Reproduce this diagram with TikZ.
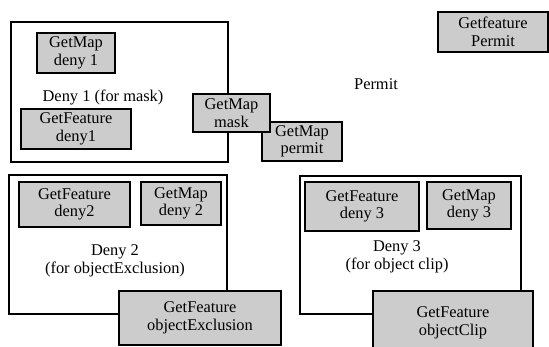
\documentclass[tikz,border=0pt]{standalone}
\usepackage{fontspec}
\setmainfont{Liberation Serif}

\begin{document}
\begin{tikzpicture}[x=1pt,y=-1pt,
  font=\fontsize{16.4}{17.5}\selectfont,
  policy/.style={draw,line width=1.6pt,fill=white,inner sep=0pt},
  req/.style={draw,line width=1.3pt,fill=gray!40,align=center,inner sep=0pt},
  lbl/.style={align=center,inner sep=1pt}]
\useasboundingbox (0,0) rectangle (549,347);
% deny 1 (mask)
\node[policy,minimum width=217pt,minimum height=140pt] (deny1) at (119.5,92) {};
\node[req,minimum width=78pt,minimum height=40pt] (mapdeny1) at (76,53) {GetMap\\deny 1};
\node[lbl] (deny1lbl) at (103,97) {Deny 1 (for mask)};
\node[req,minimum width=110pt,minimum height=40pt] (featdeny1) at (76,129) {GetFeature\\deny1};
\node[req,minimum width=80pt,minimum height=39pt] (mappermit) at (302,141.5) {GetMap\\permit};
\node[req,minimum width=77pt,minimum height=38pt] (mapmask) at (231.5,113) {GetMap\\mask};
% permit
\node[lbl] (permit) at (376,84) {Permit};
\node[req,minimum width=110pt,minimum height=40pt] (featpermit) at (493,32) {Getfeature\\Permit};
% deny 2 (objectExclusion)
\node[policy,minimum width=218pt,minimum height=139pt] (deny2) at (118,244.5) {};
\node[req,minimum width=111pt,minimum height=45pt] (featdeny2) at (74.5,204.5) {GetFeature\\deny2};
\node[req,minimum width=80pt,minimum height=43pt] (mapdeny2) at (181,203.5) {GetMap\\deny 2};
\node[lbl] (deny2lbl) at (115,261) {Deny 2\\(for objectExclusion)};
\node[req,minimum width=162pt,minimum height=54pt] (featexcl) at (200,318) {GetFeature\\objectExclusion};
% deny 3 (object clip)
\node[policy,minimum width=221pt,minimum height=138pt] (deny3) at (410.5,245) {};
\node[req,minimum width=114pt,minimum height=49pt] (featdeny3) at (362,206.5) {GetFeature\\deny 3};
\node[req,minimum width=84pt,minimum height=47pt] (mapdeny3) at (469,205.5) {GetMap\\deny 3};
\node[lbl] (deny3lbl) at (397,257) {Deny 3\\(for object clip)};
\node[req,minimum width=160pt,minimum height=64pt] (featclip) at (453,323) {GetFeature\\objectClip};
\end{tikzpicture}
\end{document}
